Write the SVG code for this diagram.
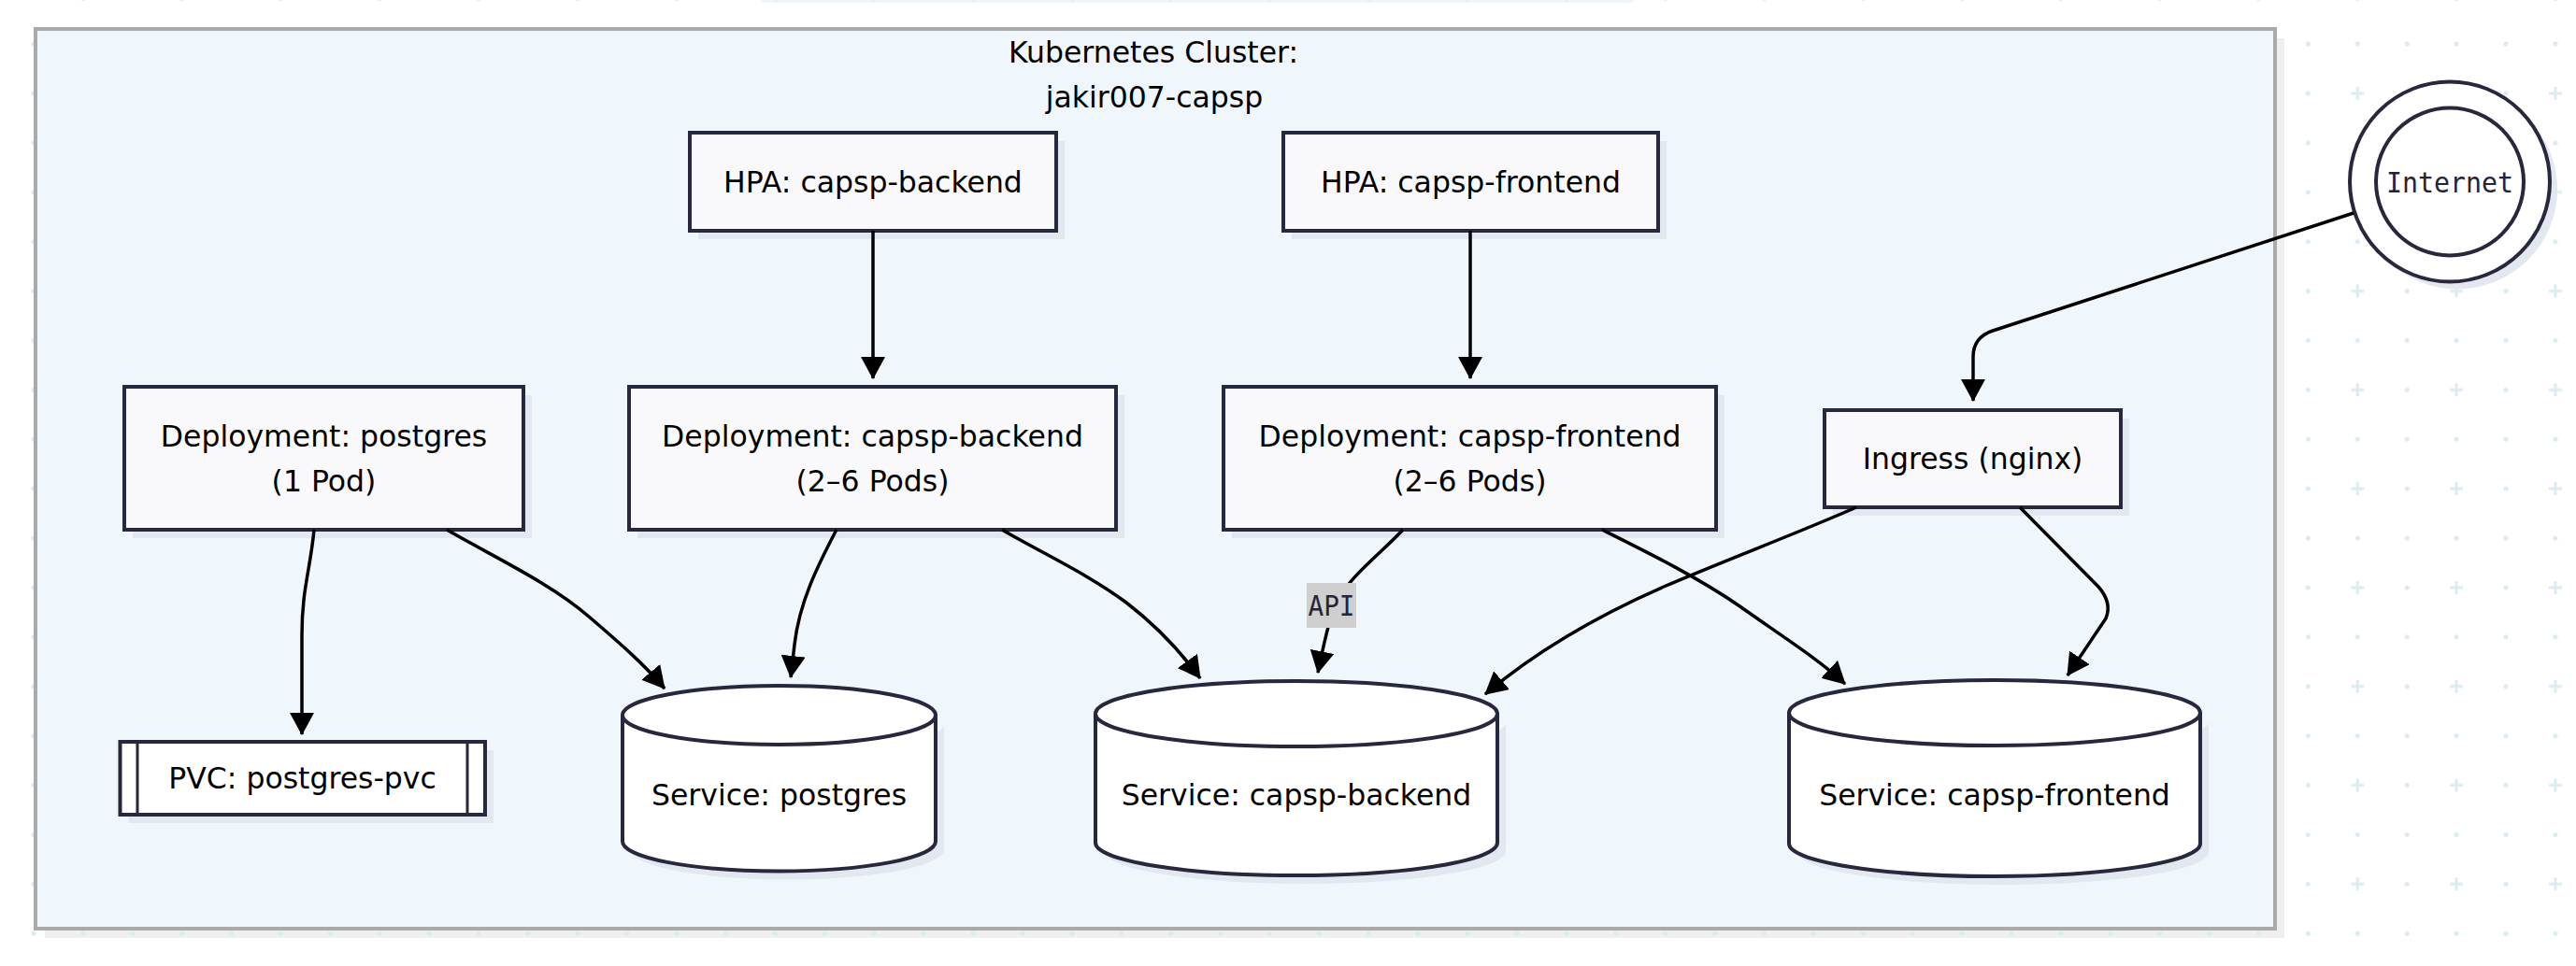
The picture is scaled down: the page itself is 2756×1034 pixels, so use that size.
<svg xmlns="http://www.w3.org/2000/svg" width="2756" height="1034" viewBox="0 0 2756 1034">
<style>
.lbl{font-family:"DejaVu Sans",Verdana,sans-serif;font-size:31.5px;fill:#000;text-anchor:middle}
.mono{font-family:"DejaVu Sans Mono","Liberation Mono",monospace;font-size:31px;fill:#23233a;text-anchor:middle}
.box{fill:#f9f9fb;stroke:#27273d;stroke-width:4}
.wbox{fill:#ffffff;stroke:#27273d;stroke-width:4}
.shd{fill:#e3e7ef;stroke:none}
.edge{fill:none;stroke:#000;stroke-width:3.5}
.dot{fill:#d9ecf0}
</style>
<defs>
<pattern id="grid" patternUnits="userSpaceOnUse" x="36" y="47" width="105.8" height="105.8">
<circle cx="0" cy="0" r="2.6" class="dot"/>
<circle cx="105.8" cy="0" r="2.6" class="dot"/>
<circle cx="0" cy="105.8" r="2.6" class="dot"/>
<circle cx="105.8" cy="105.8" r="2.6" class="dot"/>
<circle cx="52.9" cy="0" r="2.6" class="dot"/>
<circle cx="52.9" cy="105.8" r="2.6" class="dot"/>
<circle cx="0" cy="52.9" r="2.6" class="dot"/>
<circle cx="105.8" cy="52.9" r="2.6" class="dot"/>
<path d="M52.9,45.9 V59.9 M45.9,52.9 H59.9" stroke="#d9ecf0" stroke-width="3"/>
</pattern>
<marker id="arr" markerUnits="userSpaceOnUse" markerWidth="24" markerHeight="26" refX="23" refY="13" orient="auto">
<path d="M0,0 L24,13 L0,26 z" fill="#000"/>
</marker>
</defs>
<rect x="0" y="0" width="2756" height="1034" fill="#ffffff"/>
<rect x="812" y="-20" width="938" height="23" rx="8" fill="#eef4f8"/>
<rect x="48" y="41" width="2396" height="963" fill="#efefef"/>
<rect x="0" y="0" width="2756" height="1034" fill="url(#grid)"/>

<g id="cluster">
<rect x="38" y="31" width="2396" height="963" fill="#eff6fc" stroke="#aaaaaa" stroke-width="4"/>
<text class="lbl" x="1234" y="67">Kubernetes Cluster:</text>
<text class="lbl" x="1235" y="115">jakir007-capsp</text>
</g>

<g id="hpa-backend">
<rect class="shd" x="747" y="151" width="392" height="105"/>
<rect class="box" x="738" y="142" width="392" height="105"/>
<text class="lbl" x="934" y="206">HPA: capsp-backend</text>
</g>

<g id="hpa-frontend">
<rect class="shd" x="1382" y="151" width="401" height="105"/>
<rect class="box" x="1373" y="142" width="401" height="105"/>
<text class="lbl" x="1573.5" y="206">HPA: capsp-frontend</text>
</g>

<g id="internet">
<circle cx="2629" cy="202.5" r="107" class="shd"/>
<circle cx="2621" cy="194.5" r="107" class="wbox"/>
<circle cx="2621" cy="194.5" r="79" class="wbox"/>
<text class="mono" x="2621" y="206" textLength="136" lengthAdjust="spacingAndGlyphs">Internet</text>
</g>

<g id="deploy-postgres">
<rect class="shd" x="142" y="423" width="427" height="153"/>
<rect class="box" x="133" y="414" width="427" height="153"/>
<text class="lbl" x="346.5" y="478">Deployment: postgres</text>
<text class="lbl" x="346.5" y="526">(1 Pod)</text>
</g>

<g id="deploy-backend">
<rect class="shd" x="682" y="423" width="521" height="153"/>
<rect class="box" x="673" y="414" width="521" height="153"/>
<text class="lbl" x="933.5" y="478">Deployment: capsp-backend</text>
<text class="lbl" x="933.5" y="526">(2–6 Pods)</text>
</g>

<g id="deploy-frontend">
<rect class="shd" x="1318" y="423" width="527" height="153"/>
<rect class="box" x="1309" y="414" width="527" height="153"/>
<text class="lbl" x="1572.5" y="478">Deployment: capsp-frontend</text>
<text class="lbl" x="1572.5" y="526">(2–6 Pods)</text>
</g>

<g id="ingress">
<rect class="shd" x="1961" y="448" width="317" height="104"/>
<rect class="box" x="1952" y="439" width="317" height="104"/>
<text class="lbl" x="2110.5" y="502">Ingress (nginx)</text>
</g>

<g id="pvc">
<rect class="shd" x="137.5" y="803" width="390.5" height="78"/>
<rect class="wbox" x="128.5" y="794" width="390.5" height="78"/>
<path d="M147,794 V872 M500,794 V872" stroke="#27273d" stroke-width="3" fill="none"/>
<text class="lbl" x="323.5" y="844">PVC: postgres-pvc</text>
</g>

<g id="svc-postgres">
<path class="shd" d="M675,774.5 a167.5,31.5 0 0 0 335,0 l0,135 a167.5,32 0 0 1 -335,0 z"/>
<path class="wbox" d="M666,765.5 a167.5,31.5 0 0 0 335,0 a167.5,31.5 0 0 0 -335,0 l0,135 a167.5,32 0 0 0 335,0 l0,-135"/>
<text class="lbl" x="833.5" y="862">Service: postgres</text>
</g>

<g id="svc-backend">
<path class="shd" d="M1181,773 a215,35 0 0 0 430,0 l0,138 a215,35 0 0 1 -430,0 z"/>
<path class="wbox" d="M1172,764 a215,35 0 0 0 430,0 a215,35 0 0 0 -430,0 l0,138 a215,35 0 0 0 430,0 l0,-138"/>
<text class="lbl" x="1387" y="862">Service: capsp-backend</text>
</g>

<g id="svc-frontend">
<path class="shd" d="M1923,772 a220,35 0 0 0 440,0 l0,140 a220,35 0 0 1 -440,0 z"/>
<path class="wbox" d="M1914,763 a220,35 0 0 0 440,0 a220,35 0 0 0 -440,0 l0,140 a220,35 0 0 0 440,0 l0,-140"/>
<text class="lbl" x="2134" y="862">Service: capsp-frontend</text>
</g>

<g id="connectors">
<path class="edge" marker-end="url(#arr)" d="M336,567 C332,610 323,630 323,680 L323,786"/>
<path class="edge" marker-end="url(#arr)" d="M478,567 C530,597 590,625 630,660 C665,690 690,712 711,737"/>
<path class="edge" marker-end="url(#arr)" d="M895,567 C875,605 855,645 850,690 L846,725"/>
<path class="edge" marker-end="url(#arr)" d="M1072,567 C1115,592 1165,615 1205,645 C1240,672 1265,700 1284,726"/>
<path class="edge" marker-end="url(#arr)" d="M1501,567 C1480,590 1440,620 1428,648 C1420,670 1414,700 1410,720"/>
<path class="edge" marker-end="url(#arr)" d="M1714,567 C1760,590 1815,617 1860,648 C1905,680 1945,705 1974,732"/>
<path class="edge" marker-end="url(#arr)" d="M1986,543 C1920,572 1850,598 1780,628 C1700,663 1640,700 1589,743"/>
<path class="edge" marker-end="url(#arr)" d="M2161,543 L2245,628 Q2260,645 2253,662 L2212,723"/>
<path class="edge" marker-end="url(#arr)" d="M2518,228 L2132,354 Q2111,361 2111,382 L2111,429"/>
<path class="edge" marker-end="url(#arr)" d="M934,247 L934,405"/>
<path class="edge" marker-end="url(#arr)" d="M1573,247 L1573,405"/>
<rect x="1398" y="624" width="53" height="48" fill="#cfcfcf"/>
<text class="mono" x="1424.5" y="659" textLength="50" lengthAdjust="spacingAndGlyphs">API</text>
</g>
</svg>
